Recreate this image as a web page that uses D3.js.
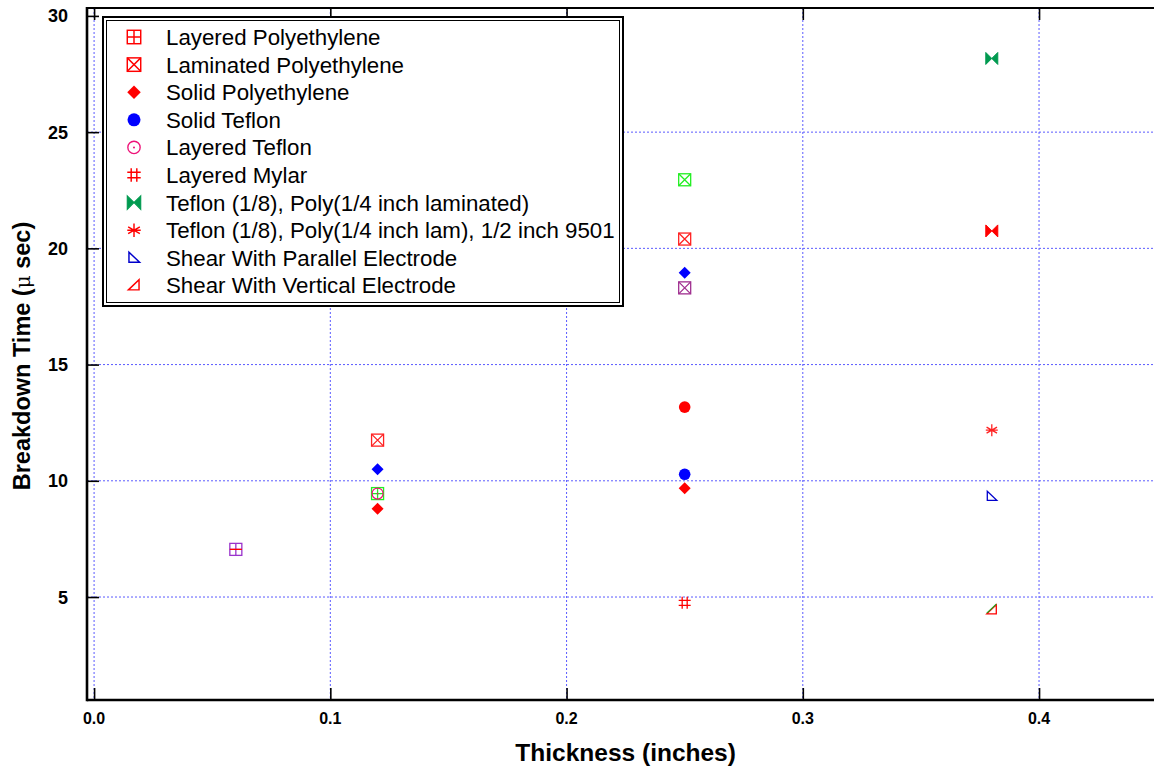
<!DOCTYPE html>
<html><head><meta charset="utf-8">
<script src="https://cdn.jsdelivr.net/npm/d3@7"></script>
<style>
body{margin:0;background:#fff;}
text{font-family:"Liberation Sans",Arial,sans-serif;}
</style></head>
<body><svg id="c" width="1154" height="766"></svg>
<script>
// ---- data ----
const xTicks = [0.0, 0.1, 0.2, 0.3, 0.4];
const yTicks = [5, 10, 15, 20, 25, 30];
const legendNames = [
  "Layered Polyethylene",
  "Laminated Polyethylene",
  "Solid Polyethylene",
  "Solid Teflon",
  "Layered Teflon",
  "Layered Mylar",
  "Teflon (1/8), Poly(1/4 inch laminated)",
  "Teflon (1/8), Poly(1/4 inch lam), 1/2 inch 9501",
  "Shear With Parallel Electrode",
  "Shear With Vertical Electrode"
];
const legendMarkers = ["boxplus","boxx","diamond","circle","circledot","hash","bowtie","asterisk","triPar","triVert"];
const legendColors = ["#ff0000","#ff0000","#ff0000","#0000ff","#ee1177","#ff0000","#009a50","#ff0000","#0000cc","#ff0000"];

// points drawn in the plot: [x, y]
const layeredPoly = [[0.06, 7.05]];
const laminatedPoly = [[0.12, 11.75], [0.25, 20.4]];
const laminatedPolyGreen = [[0.25, 22.95]];
const laminatedPolyPurple = [[0.25, 18.3]];
const solidPoly = [[0.12, 8.8], [0.25, 9.68]];
const solidPolyBlue = [[0.12, 10.5], [0.25, 18.95]];
const solidTeflon = [[0.25, 10.28]];
const solidTeflonRed = [[0.25, 13.17]];
const layeredTeflon = [[0.12, 9.45]];
const layeredTeflonBox = [[0.12, 9.45]];
const layeredMylar = [[0.25, 4.75]];
const teflonPolyLam = [[0.38, 28.17]];
const teflonPolyLamRed = [[0.38, 20.75]];
const teflonPoly9501 = [[0.38, 12.18]];
const shearParallel = [[0.38, 9.33]];
const shearVertical = [[0.38, 4.45]];
const shearVerticalGreen = [[0.38, 4.48]];

const plotSeries = [
  {pts: layeredPoly, m: "boxplus", c: "#9a33cc"},
  {pts: layeredPoly, m: "hline", c: "#ff0000"},
  {pts: laminatedPoly, m: "boxx", c: "#ff2222"},
  {pts: laminatedPolyGreen, m: "boxx", c: "#22ee22"},
  {pts: laminatedPolyPurple, m: "boxx", c: "#a03090"},
  {pts: solidPoly, m: "diamond", c: "#ff0000"},
  {pts: solidPolyBlue, m: "diamond", c: "#0000ff"},
  {pts: solidTeflon, m: "circle", c: "#0000ff"},
  {pts: solidTeflonRed, m: "circle", c: "#ff0000"},
  {pts: layeredTeflonBox, m: "boxplus", c: "#22ee22"},
  {pts: layeredTeflon, m: "circledot", c: "#ee1177"},
  {pts: layeredMylar, m: "hash", c: "#ff0000"},
  {pts: teflonPolyLam, m: "bowtie", c: "#009a50"},
  {pts: teflonPolyLamRed, m: "bowtie", c: "#ff0000"},
  {pts: teflonPoly9501, m: "asterisk", c: "#ff2222"},
  {pts: shearParallel, m: "triPar", c: "#0000cc"},
  {pts: shearVertical, m: "triVert", c: "#ff0000"},
  {pts: shearVerticalGreen, m: "hyp", c: "#22aa22"}
];

// ---- layout ----
const svg = d3.select("#c");
const x = d3.scaleLinear().domain([-0.003, 0.449]).range([87, 1154.8]);
const y = d3.scaleLinear().domain([0.57, 30.34]).range([700, 8]);

// grid
const grid = svg.append("g").attr("stroke", "#5a5aff").attr("stroke-width", 1).attr("stroke-dasharray", "2,2");
grid.selectAll("line.gx").data(xTicks).join("line")
  .attr("x1", d => x(d)).attr("x2", d => x(d)).attr("y1", y.range()[1]).attr("y2", y.range()[0]);
grid.selectAll("line.gy").data(yTicks.filter(d => d < 30)).join("line")
  .attr("y1", d => y(d)).attr("y2", d => y(d)).attr("x1", x.range()[0]).attr("x2", x.range()[1]);

// axes
const axL = svg.append("g").attr("transform", `translate(${x.range()[0]},0)`)
  .call(d3.axisRight(y).tickValues(yTicks).tickSize(12).tickFormat(""));
const axB = svg.append("g").attr("transform", `translate(0,${y.range()[0]})`)
  .call(d3.axisTop(x).tickValues(xTicks).tickSize(12).tickFormat(""));
const axT = svg.append("g").attr("transform", `translate(0,${y.range()[1]})`)
  .call(d3.axisBottom(x).tickValues(xTicks).tickSize(12).tickFormat(""));
[axL, axB, axT].forEach(a => {
  a.select(".domain").remove();
  a.selectAll(".tick line").attr("stroke", "#000").attr("stroke-width", 1.6);
});
svg.append("line").attr("x1", x.range()[0]).attr("x2", x.range()[0]).attr("y1", y.range()[1] - 1).attr("y2", y.range()[0] + 1.2)
  .attr("stroke", "#000").attr("stroke-width", 2.6);
svg.append("line").attr("x1", x.range()[0]).attr("x2", 1154).attr("y1", y.range()[0]).attr("y2", y.range()[0])
  .attr("stroke", "#000").attr("stroke-width", 2.6);
svg.append("line").attr("x1", x.range()[0]).attr("x2", 1154).attr("y1", y.range()[1]).attr("y2", y.range()[1])
  .attr("stroke", "#000").attr("stroke-width", 2);

// tick labels
svg.append("g").selectAll("text").data(yTicks).join("text")
  .attr("x", 68).attr("y", d => y(d)).attr("dy", "0.36em").attr("text-anchor", "end")
  .attr("font-size", 18).attr("font-weight", "bold").text(d => d);
svg.append("g").selectAll("text").data(xTicks).join("text")
  .attr("x", d => x(d)).attr("y", 724).attr("text-anchor", "middle")
  .attr("font-size", 16).attr("font-weight", "bold").text(d => d.toFixed(1));

// axis titles
svg.append("text").attr("x", x(0.225)).attr("y", 761).attr("text-anchor", "middle")
  .attr("font-size", 24.5).attr("font-weight", "bold").text("Thickness (inches)");
const yt = svg.append("text").attr("transform", "translate(30,356) rotate(-90)").attr("text-anchor", "middle")
  .attr("font-size", 23.5).attr("font-weight", "bold");
yt.append("tspan").text("Breakdown Time (");
yt.append("tspan").attr("font-weight", "normal").attr("font-family", "DejaVu Serif, serif").attr("font-size", 20).text("μ");
yt.append("tspan").text(" sec)");

// markers
function drawMarker(g, type, c) {
  const s = 6;
  const sw = 1.3;
  if (type === "boxplus") {
    g.append("rect").attr("x", -s).attr("y", -s).attr("width", 2 * s).attr("height", 2 * s).attr("fill", "none").attr("stroke", c).attr("stroke-width", sw);
    g.append("path").attr("d", `M0,${-s}V${s}M${-s},0H${s}`).attr("stroke", c).attr("stroke-width", sw);
  } else if (type === "hline") {
    g.append("path").attr("d", `M${-s},0H${s}`).attr("stroke", c).attr("stroke-width", sw);
  } else if (type === "boxx") {
    g.append("rect").attr("x", -s).attr("y", -s).attr("width", 2 * s).attr("height", 2 * s).attr("fill", "none").attr("stroke", c).attr("stroke-width", sw);
    g.append("path").attr("d", `M${-s},${-s}L${s},${s}M${s},${-s}L${-s},${s}`).attr("stroke", c).attr("stroke-width", sw);
  } else if (type === "diamond") {
    g.append("path").attr("d", `M0,${-s}L${s},0L0,${s}L${-s},0Z`).attr("fill", c);
  } else if (type === "circle") {
    g.append("circle").attr("r", 5.8).attr("fill", c);
  } else if (type === "circledot") {
    g.append("circle").attr("r", 5.5).attr("fill", "none").attr("stroke", c).attr("stroke-width", 1.2);
    g.append("circle").attr("r", 0.9).attr("fill", c);
  } else if (type === "hash") {
    g.append("path").attr("d", `M-2.5,${-s}V${s}M2.5,${-s}V${s}M${-s},-2.5H${s}M${-s},2.5H${s}`).attr("stroke", c).attr("stroke-width", sw);
  } else if (type === "bowtie") {
    g.append("path").attr("d", `M${-s},${-s}L0,0L${-s},${s}ZM${s},${-s}L0,0L${s},${s}Z`).attr("fill", c).attr("stroke", c).attr("stroke-width", 1);
  } else if (type === "asterisk") {
    const a = s, b = s * 0.87, h = s * 0.5;
    g.append("path").attr("d", `M0,${-a}V${a}M${-b},${-h}L${b},${h}M${b},${-h}L${-b},${h}M${-a},0H${a}`).attr("stroke", c).attr("stroke-width", sw);
  } else if (type === "triPar") {
    g.append("path").attr("d", "M-4.5,-5L-4.5,4L5,4Z").attr("fill", "none").attr("stroke", c).attr("stroke-width", sw);
  } else if (type === "triVert") {
    g.append("path").attr("d", "M4.5,-5L4.5,4L-5,4Z").attr("fill", "none").attr("stroke", c).attr("stroke-width", sw);
  } else if (type === "hyp") {
    g.append("path").attr("d", "M4.5,-5L-5,4").attr("fill", "none").attr("stroke", c).attr("stroke-width", sw);
  }
}

const pg = svg.append("g");
plotSeries.forEach(ser => {
  pg.append("g").selectAll("g").data(ser.pts).join("g")
    .attr("transform", d => `translate(${x(d[0])},${y(d[1])})`)
    .each(function () { drawMarker(d3.select(this), ser.m, ser.c); });
});

// legend
const lg = svg.append("g");
lg.append("rect").attr("x", 103).attr("y", 17).attr("width", 520).attr("height", 289).attr("fill", "#fff").attr("stroke", "#000").attr("stroke-width", 2);
lg.append("rect").attr("x", 106.5).attr("y", 20.5).attr("width", 513).attr("height", 282).attr("fill", "none").attr("stroke", "#000").attr("stroke-width", 1);
const rows = lg.selectAll("g.row").data(legendNames).join("g")
  .attr("transform", (d, i) => `translate(0,${37 + i * 27.6})`);
rows.each(function (d, i) {
  const r = d3.select(this);
  drawMarker(r.append("g").attr("transform", "translate(134,0) scale(1.12)"), legendMarkers[i], legendColors[i]);
  r.append("text").attr("x", 166).attr("dy", "0.36em").attr("font-size", 22.3).text(d);
});
</script></body></html>
